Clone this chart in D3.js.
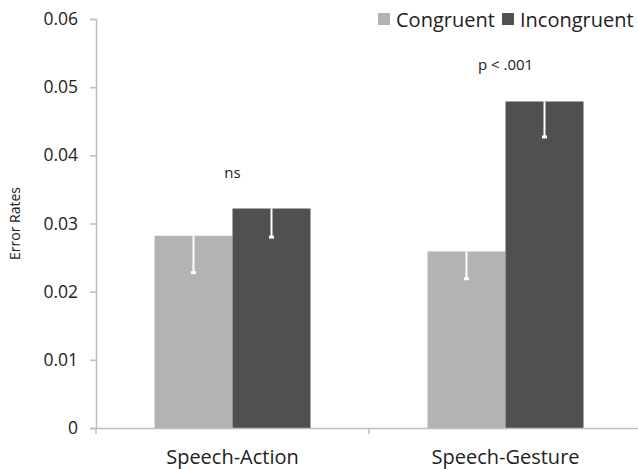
<!DOCTYPE html>
<html>
<head>
<meta charset="utf-8">
<script src="https://cdn.jsdelivr.net/npm/d3@7"></script>
<style>
  body { margin: 0; background: #fff; }
  svg, svg text { font-family: "Open Sans", "Noto Sans", sans-serif; }
</style>
</head>
<body>
<div id="chart"></div>
<script>
// data
const conditions = ['Speech-Action', 'Speech-Gesture'];
const seriesNames = ['Congruent', 'Incongruent'];
const congruent = [0.0282, 0.0259];
const incongruent = [0.0322, 0.0479];
const congruentErr = [0.0054, 0.0040];
const incongruentErr = [0.0042, 0.0052];
const sigLabels = ['ns', 'p < .001'];
const yTicks = [0, 0.01, 0.02, 0.03, 0.04, 0.05, 0.06];

const colors = { Congruent: '#b3b3b3', Incongruent: '#505050' };

const width = 638, height = 469;
const margin = { top: 19, right: -4, bottom: 41, left: 96 };
const innerW = width - margin.left - margin.right;
const innerH = height - margin.top - margin.bottom;

const svg = d3.select('#chart').append('svg')
  .attr('width', width)
  .attr('height', height);

const g = svg.append('g')
  .attr('transform', `translate(${margin.left},${margin.top})`);

const x0 = d3.scaleBand()
  .domain(conditions)
  .range([0, innerW])
  .paddingInner(0)
  .paddingOuter(0);

const x1 = d3.scaleBand()
  .domain(seriesNames)
  .range([0, x0.bandwidth()])
  .paddingOuter(0.75);

const y = d3.scaleLinear()
  .domain([0, 0.06])
  .range([innerH, 0]);

// y axis
const yAxis = g.append('g')
  .call(d3.axisLeft(y).tickValues(yTicks).tickSize(6).tickPadding(12)
    .tickFormat(d => d === 0 ? '0' : d3.format('.2f')(d)))
  .attr('font-family', null);
yAxis.select('.domain').attr('stroke', '#bdbdbd').attr('stroke-width', 1.5);
yAxis.selectAll('.tick line').attr('stroke', '#bdbdbd').attr('stroke-width', 1.5);
yAxis.selectAll('.tick text').attr('font-size', 17.5).attr('fill', '#222');

svg.append('text')
  .attr('transform', `translate(20,${margin.top + y(0.03)}) rotate(-90)`)
  .attr('text-anchor', 'middle')
  .attr('font-size', 14)
  .attr('fill', '#222')
  .text('Error Rates');

// bars
const rows = conditions.map((c, i) => ({
  cond: c,
  vals: [
    { name: 'Congruent', v: congruent[i], e: congruentErr[i] },
    { name: 'Incongruent', v: incongruent[i], e: incongruentErr[i] }
  ]
}));

const groups = g.selectAll('.grp')
  .data(rows)
  .join('g')
  .attr('class', 'grp')
  .attr('transform', d => `translate(${x0(d.cond)},0)`);

groups.selectAll('rect')
  .data(d => d.vals)
  .join('rect')
  .attr('x', d => x1(d.name))
  .attr('y', d => y(d.v))
  .attr('width', x1.bandwidth())
  .attr('height', d => y(0) - y(d.v))
  .attr('fill', d => colors[d.name]);

// error bars (downward, white)
groups.selectAll('.err')
  .data(d => d.vals)
  .join('line')
  .attr('class', 'err')
  .attr('x1', d => x1(d.name) + x1.bandwidth() / 2)
  .attr('x2', d => x1(d.name) + x1.bandwidth() / 2)
  .attr('y1', d => y(d.v))
  .attr('y2', d => y(d.v - d.e))
  .attr('stroke', '#fff')
  .attr('stroke-width', 2);

groups.selectAll('.cap')
  .data(d => d.vals)
  .join('rect')
  .attr('class', 'cap')
  .attr('x', d => x1(d.name) + x1.bandwidth() / 2 - 2.5)
  .attr('y', d => y(d.v - d.e) - 1.5)
  .attr('width', 5)
  .attr('height', 3)
  .attr('fill', '#fff');

// significance labels
g.selectAll('.sig')
  .data(conditions)
  .join('text')
  .attr('class', 'sig')
  .attr('x', d => x0(d) + x0.bandwidth() / 2)
  .attr('y', (d, i) => y(Math.max(congruent[i], incongruent[i])) - 31)
  .attr('text-anchor', 'middle')
  .attr('font-size', 15)
  .attr('fill', '#222')
  .text((d, i) => sigLabels[i]);

// x axis
const xAxis = g.append('g')
  .attr('transform', `translate(0,${innerH})`)
  .call(d3.axisBottom(x0).tickSize(0).tickPadding(22))
  .attr('font-family', null);
xAxis.select('.domain').attr('stroke', '#bdbdbd').attr('stroke-width', 1.5);
xAxis.selectAll('.tick text').attr('font-size', 20).attr('fill', '#222');

// category boundary ticks
g.append('g')
  .selectAll('line')
  .data([0, x0.bandwidth(), innerW])
  .join('line')
  .attr('x1', d => d).attr('x2', d => d)
  .attr('y1', innerH).attr('y2', innerH + 6)
  .attr('stroke', '#bdbdbd')
  .attr('stroke-width', 1.5);

// legend
const legend = svg.append('g')
  .attr('transform', 'translate(378,13)');
const legendX = [0, 124];
const items = legend.selectAll('g')
  .data(seriesNames)
  .join('g')
  .attr('transform', (d, i) => `translate(${legendX[i]},0)`);
items.append('rect')
  .attr('width', 12).attr('height', 12)
  .attr('fill', d => colors[d]);
items.append('text')
  .attr('x', 18).attr('y', 14)
  .attr('font-size', 20)
  .attr('fill', '#222')
  .text(d => d);
</script>
</body>
</html>
